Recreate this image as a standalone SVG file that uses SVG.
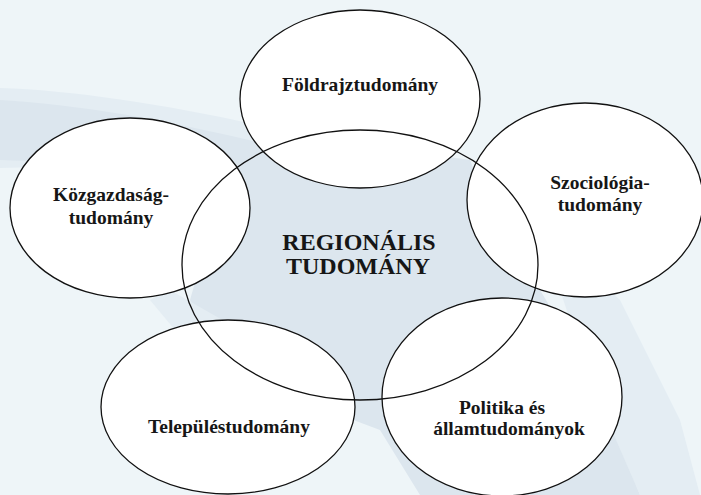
<svg xmlns="http://www.w3.org/2000/svg" width="701" height="495" viewBox="0 0 701 495">
<style>
.bg{fill:#eef5f8}
.wm{fill:#dce6ee}
.wm2{fill:#e4edf3}
.node{fill:#ffffff;stroke:#111;stroke-width:1.3}
.core{fill:none;stroke:#111;stroke-width:1.3}
</style>
<rect class="bg" x="0" y="0" width="701" height="495"/>
<g id="watermark">
<path class="wm2" d="M0,88 C80,90 200,110 300,135 L470,160 L480,190 L300,175 C200,168 100,165 0,168 Z"/>
<path class="wm" d="M0,100 C90,105 190,125 290,150 L330,160 L300,175 C220,170 120,165 0,160 Z"/>
<path class="wm" d="M230,160 C300,150 400,150 470,160 L500,240 L540,290 L600,390 L640,495 L420,495 L380,430 L300,400 L220,360 L190,300 Z"/>
<path class="wm2" d="M170,290 L240,330 L200,360 L150,300 Z"/>
<path class="wm2" d="M540,230 L620,300 L680,420 L700,495 L640,495 L590,380 Z"/>
</g>
<g id="n-foldrajz">
<ellipse class="node" cx="360" cy="99" rx="120" ry="89"/>
<text x="360" y="91" font-family="Liberation Serif" font-weight="bold" font-size="19.5" fill="#161616" text-anchor="middle">Földrajztudomány</text>
</g>
<g id="n-kozgazdasag">
<ellipse class="node" cx="130" cy="208" rx="120" ry="90"/>
<text x="111" y="201" font-family="Liberation Serif" font-weight="bold" font-size="19.5" fill="#161616" text-anchor="middle">Közgazdaság-</text>
<text x="111" y="224" font-family="Liberation Serif" font-weight="bold" font-size="19.5" fill="#161616" text-anchor="middle">tudomány</text>
</g>
<g id="n-szociologia">
<ellipse class="node" cx="585" cy="200" rx="118" ry="97"/>
<text x="600" y="189" font-family="Liberation Serif" font-weight="bold" font-size="19.5" fill="#161616" text-anchor="middle">Szociológia-</text>
<text x="600" y="211" font-family="Liberation Serif" font-weight="bold" font-size="19.5" fill="#161616" text-anchor="middle">tudomány</text>
</g>
<g id="n-telepules">
<ellipse class="node" cx="228" cy="407" rx="127" ry="87"/>
<text x="229" y="433" font-family="Liberation Serif" font-weight="bold" font-size="19.5" fill="#161616" text-anchor="middle">Településtudomány</text>
</g>
<g id="n-politika">
<ellipse class="node" cx="502" cy="397" rx="120" ry="99"/>
<text x="502" y="414" font-family="Liberation Serif" font-weight="bold" font-size="19.5" fill="#161616" text-anchor="middle">Politika és</text>
<text x="509" y="435" font-family="Liberation Serif" font-weight="bold" font-size="19.5" fill="#161616" text-anchor="middle">államtudományok</text>
</g>
<g id="n-regionalis">
<ellipse class="core" cx="360" cy="265" rx="178" ry="135"/>
<text x="359" y="250" font-family="Liberation Serif" font-weight="bold" font-size="24" fill="#161616" text-anchor="middle">REGIONÁLIS</text>
<text x="358" y="274" font-family="Liberation Serif" font-weight="bold" font-size="24" fill="#161616" text-anchor="middle">TUDOMÁNY</text>
</g>
</svg>
